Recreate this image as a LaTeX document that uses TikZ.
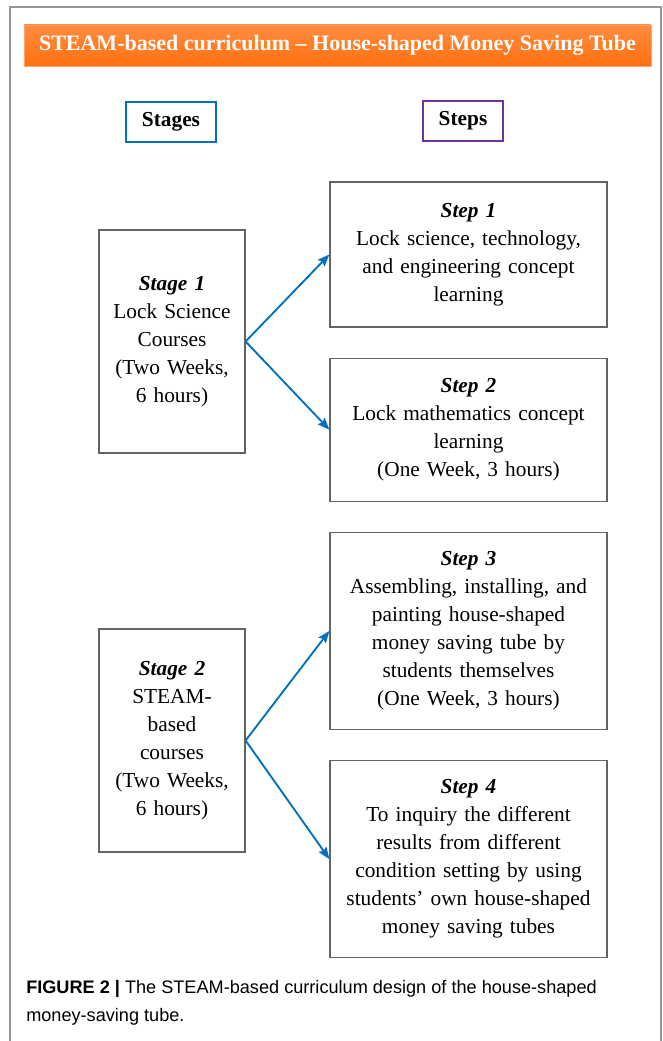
\documentclass[tikz,border=0pt]{standalone}
\usepackage{fontspec}
\setmainfont{Liberation Serif}
\newfontfamily\captionfont{Liberation Sans}
\usepackage{xcolor}
\usetikzlibrary{positioning,arrows.meta}

\definecolor{barorange}{RGB}{255,112,16}
\definecolor{bartop}{RGB}{255,140,64}
\definecolor{stageblue}{RGB}{0,112,192}
\definecolor{steppurple}{RGB}{112,48,160}
\definecolor{boxgray}{RGB}{100,100,100}
\definecolor{framegray}{RGB}{150,150,150}

\begin{document}
\begin{tikzpicture}[x=0.75pt, y=-0.75pt,
textbox/.style={draw=boxgray, line width=0.9pt, align=center, inner sep=3pt,
  font=\fontsize{16}{21}\selectfont},
stagebox/.style={textbox, minimum width=109.5pt, minimum height=167.25pt, text width=103pt},
stepbox/.style={textbox, minimum width=207.75pt, text width=201pt},
headbox/.style={draw, line width=2.2pt, minimum height=30pt, align=center,
  font=\fontsize{16}{18}\selectfont\bfseries},
link/.style={stageblue, line width=1.4pt, -{Stealth[length=9pt, width=7pt, inset=1.5pt]}}]

\useasboundingbox (0,0) rectangle (663,1041);

% outer frame, open at the bottom
\draw[framegray, line width=0.8pt] (10,1041) -- (10,7) -- (661,7) -- (661,1041);

% title bar
\node (title) [top color=bartop, bottom color=barorange, draw=bartop!80,
  minimum width=470pt, minimum height=31pt, text=white,
  font=\fontsize{16.5}{18}\selectfont\bfseries] at (337.5,45.5)
  {STEAM-based curriculum -- House-shaped Money Saving Tube};

% column heads
\node (stages) [headbox, draw=stageblue, minimum width=67.5pt] at (171,122) {Stages};
\node (steps) [headbox, draw=steppurple, minimum width=60pt] at (463,121) {Steps};

% stages
\node (stage1) [stagebox] at (172,341.5)
  {\textbf{\textit{Stage 1}}\\Lock Science\\Courses\\(Two Weeks,\\6 hours)};
\node (stage2) [stagebox] at (172,740.5)
  {\textbf{\textit{Stage 2}}\\STEAM-\\based\\courses\\(Two Weeks,\\6 hours)};

% steps
\node (step1) [stepbox, minimum height=108.75pt] at (468.5,254.5)
  {\textbf{\textit{Step 1}}\\Lock science, technology,\\and engineering concept\\learning};
\node (step2) [stepbox, minimum height=107.25pt, below=22.5pt of step1]
  {\textbf{\textit{Step 2}}\\Lock mathematics concept\\learning\\(One Week, 3 hours)};
\node (step3) [stepbox, minimum height=147.75pt, below=22.5pt of step2]
  {\textbf{\textit{Step 3}}\\Assembling, installing, and\\painting house-shaped\\money saving tube by\\students themselves\\(One Week, 3 hours)};
\node (step4) [stepbox, minimum height=147.75pt, below=22.5pt of step3]
  {\textbf{\textit{Step 4}}\\To inquiry the different\\results from different\\condition setting by using\\students' own house-shaped\\money saving tubes};

\draw[link] (stage1.east) -- (step1.west);
\draw[link] (stage1.east) -- (step2.west);
\draw[link] (stage2.east) -- (step3.west);
\draw[link] (stage2.east) -- (step4.west);

% caption
\node (caption) [anchor=north west, align=left, inner sep=0pt,
  font=\captionfont\fontsize{13.6}{21}\selectfont] at (26,980)
  {\textbf{FIGURE 2 |} The STEAM-based curriculum design of the house-shaped\\money-saving tube.};

\end{tikzpicture}
\end{document}
